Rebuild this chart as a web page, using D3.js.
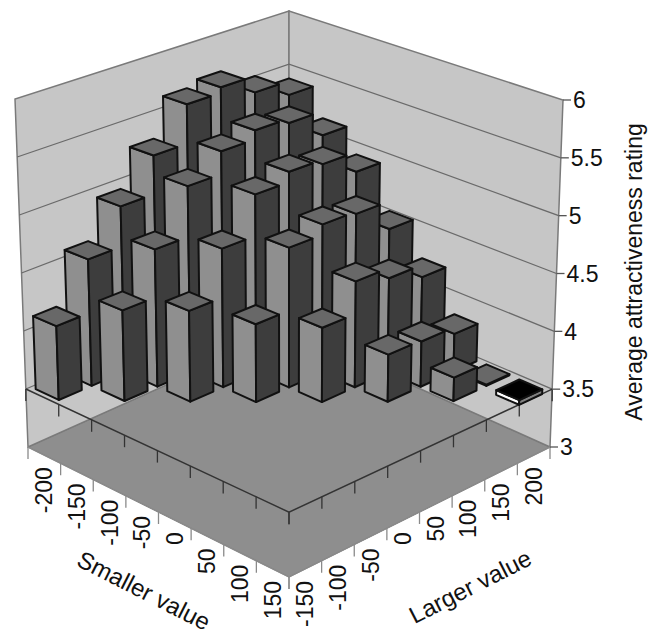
<!DOCTYPE html>
<html>
<head>
<meta charset="utf-8">
<script src="https://cdn.jsdelivr.net/npm/d3@7"></script>
<style>
  body { margin: 0; background: #fff; }
  svg text { font-family: "Liberation Sans", Arial, sans-serif; fill: #111; }
</style>
</head>
<body>
<svg id="chart" width="657" height="641"></svg>
<script>
const smallerValues = [-200, -150, -100, -50, 0, 50, 100, 150];
const largerValues = [-150, -100, -50, 0, 50, 100, 150, 200];
const ratingTicks = [3, 3.5, 4, 4.5, 5, 5.5, 6];
// one row per smaller value, one column per larger value (null: no pair)
const ratingsBySmaller = [
    [4.13, 4.59, 4.94, 5.28, 5.63, 5.68, 5.53, 5.40],
    [null, 4.27, 4.68, 5.12, 5.32, 5.40, 5.36, 5.14],
    [null, null, 4.27, 4.69, 5.05, 5.14, 5.10, 4.92],
    [null, null, null, 4.16, 4.70, 4.79, 4.77, 4.52],
    [null, null, null, null, 4.13, 4.41, 4.32, 4.21],
    [null, null, null, null, null, 3.90, 3.89, 3.83],
    [null, null, null, null, null, null, 3.70, 3.51],
    [null, null, null, null, null, null, null, 3.46]
];
const baseRating = 3.5;

const svg = d3.select("#chart");

// box corners on screen: L left, F front, R right, B back
const top6 = { L: [15, 99], F: [289, 188], R: [563, 100], B: [289, 11] };
const bot3 = { L: [28, 447], F: [289, 577], R: [550, 447], B: [289, 330] };

const sScale = d3.scaleBand().domain(smallerValues).range([0, 1]).paddingInner(0.3).paddingOuter(0.15);
const tScale = d3.scaleBand().domain(largerValues).range([0, 1]).paddingInner(0.3).paddingOuter(0.15);
const zScale = d3.scaleLinear().domain([3, 6]).range([0, 1]);

function bilin(c, s, t) {
    const k = i => c.L[i] * (1 - s) * (1 - t) + c.F[i] * s * (1 - t) + c.R[i] * s * t + c.B[i] * (1 - s) * t;
    return [k(0), k(1)];
}
function project(s, t, z) {
    const f = zScale(z);
    const a = bilin(bot3, s, t), b = bilin(top6, s, t);
    return [a[0] + (b[0] - a[0]) * f, a[1] + (b[1] - a[1]) * f];
}
const line = d3.line();
const poly = pts => line(pts) + "Z";

// floor and walls
svg.append("path").attr("d", poly([project(0,0,3), project(1,0,3), project(1,1,3), project(0,1,3)]))
    .attr("fill", "#8e8e8e").attr("stroke", "#777");
svg.append("path").attr("d", poly([project(0,0,3), project(0,1,3), project(0,1,6), project(0,0,6)]))
    .attr("fill", "#c6c6c6").attr("stroke", "#7a7a7a").attr("stroke-width", 1.5);
svg.append("path").attr("d", poly([project(0,1,3), project(1,1,3), project(1,1,6), project(0,1,6)]))
    .attr("fill", "#c6c6c6").attr("stroke", "#7a7a7a").attr("stroke-width", 1.5);

svg.append("g").selectAll("path").data(ratingTicks.filter(z => z > 3 && z < 6)).join("path")
    .attr("d", z => line([project(0,0,z), project(0,1,z), project(1,1,z)]))
    .attr("fill", "none").attr("stroke", "#6a6a6a").attr("stroke-width", 1.3);

// category boundaries on the floor (3) and on the axis plane (3.5)
function bandEdge(scale, i) {
    if (i === 0) return 0;
    if (i === 8) return 1;
    const step = scale.step();
    return scale(scale.domain()[0]) - step * scale.paddingInner() / 2 + i * step;
}
[[3, "#8a8a8a"], [3.5, "#333"]].forEach(([z, col]) => {
    svg.append("path").attr("d", line([project(0,0,z), project(1,0,z), project(1,1,z)]))
        .attr("fill", "none").attr("stroke", col).attr("stroke-width", 1.5);
    const g = svg.append("g").attr("stroke", col).attr("stroke-width", 1.3);
    d3.range(9).forEach(i => {
        const p = project(bandEdge(sScale, i), 0, z);
        g.append("line").attr("x1", p[0]).attr("y1", p[1]).attr("x2", p[0]).attr("y2", p[1] + 12);
        const q = project(1, bandEdge(tScale, i), z);
        g.append("line").attr("x1", q[0]).attr("y1", q[1]).attr("x2", q[0]).attr("y2", q[1] + 12);
    });
});

// bars
const bars = [];
ratingsBySmaller.forEach((row, i) => row.forEach((v, j) => {
    if (v == null) return;
    bars.push({ smaller: smallerValues[i], larger: largerValues[j], value: v });
}));
bars.forEach(b => {
    b.s0 = sScale(b.smaller); b.s1 = b.s0 + sScale.bandwidth();
    b.t0 = tScale(b.larger); b.t1 = b.t0 + tScale.bandwidth();
});
bars.sort((a, b) => (a.s0 - a.t0) - (b.s0 - b.t0));

const barG = svg.append("g").attr("stroke", "#111").attr("stroke-width", 2).attr("stroke-linejoin", "round");
bars.forEach(b => {
    const neg = b.value < baseRating;
    const lo = Math.min(b.value, baseRating), hi = Math.max(b.value, baseRating);
    const g = barG.append("g");
    g.append("path").attr("fill", neg ? "#fff" : "#8f8f8f")
        .attr("d", poly([project(b.s0,b.t0,lo), project(b.s1,b.t0,lo), project(b.s1,b.t0,hi), project(b.s0,b.t0,hi)]));
    g.append("path").attr("fill", neg ? "#808080" : "#3d3d3d")
        .attr("d", poly([project(b.s1,b.t0,lo), project(b.s1,b.t1,lo), project(b.s1,b.t1,hi), project(b.s1,b.t0,hi)]));
    g.append("path").attr("fill", neg ? "#000" : "#686868")
        .attr("d", poly([project(b.s0,b.t0,hi), project(b.s1,b.t0,hi), project(b.s1,b.t1,hi), project(b.s0,b.t1,hi)]));
});

// rating axis
const zAxis = svg.append("g");
ratingTicks.forEach(z => {
    const p = project(1, 1, z);
    zAxis.append("line").attr("x1", p[0]).attr("y1", p[1]).attr("x2", p[0] + 8).attr("y2", p[1])
        .attr("stroke", "#555").attr("stroke-width", 1.3);
    zAxis.append("text").attr("x", p[0] + 10).attr("y", p[1]).attr("dy", "0.36em")
        .attr("font-size", 23).text(z);
});
svg.append("text").attr("transform", "translate(642,272) rotate(-90)").attr("text-anchor", "middle")
    .attr("font-size", 23).text("Average attractiveness rating");

// category labels
smallerValues.forEach(v => {
    const p = project(sScale(v) + sScale.bandwidth() / 2, 0, 3);
    svg.append("text").attr("transform", `translate(${p[0] + 8},${p[1] + 12}) rotate(-90)`)
        .attr("text-anchor", "end").attr("font-size", 23).text(v);
});
largerValues.forEach(v => {
    const p = project(1, tScale(v) + tScale.bandwidth() / 2, 3);
    svg.append("text").attr("transform", `translate(${p[0] + 8},${p[1] + 12}) rotate(-90)`)
        .attr("text-anchor", "end").attr("font-size", 23).text(v);
});
svg.append("text").attr("transform", "translate(140,598) rotate(27)").attr("text-anchor", "middle")
    .attr("font-size", 24).text("Smaller value");
svg.append("text").attr("transform", "translate(474,594) rotate(-27)").attr("text-anchor", "middle")
    .attr("font-size", 24).text("Larger value");
</script>
</body>
</html>
